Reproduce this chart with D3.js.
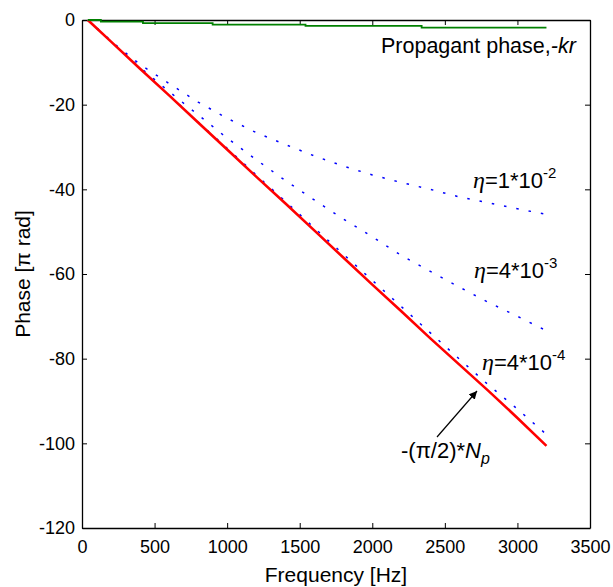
<!DOCTYPE html>
<html>
<head>
<meta charset="utf-8">
<script src="https://cdn.jsdelivr.net/npm/d3@7"></script>
<style>
  body { margin: 0; background: #fff; }
  text { font-family: "Liberation Sans", Arial, Helvetica, sans-serif; }
</style>
</head>
<body>
<div id="chart"></div>
<script>
// data
var freqs = [40, 200, 400, 600, 800, 1000, 1200, 1400, 1600, 1800, 2000, 2200, 2400, 2600, 2800, 3000, 3200];
var resonPhase = [0, -5.1, -11.5, -17.8, -24.2, -30.6, -37.0, -43.3, -49.7, -56.1, -62.5, -68.8, -75.2, -81.4, -87.6, -94.0, -100.6];
var eta4e4 = [0, -5.0, -11.4, -17.7, -24.1, -30.3, -36.6, -42.8, -49.1, -55.3, -61.5, -67.7, -73.9, -80.1, -86.2, -91.9, -97.9];
var eta4e3 = [0, -5.0, -11.2, -16.9, -22.4, -27.9, -33.0, -37.9, -42.5, -47.0, -51.2, -55.6, -59.4, -63.1, -66.7, -70.0, -73.4];
var eta1e2 = [0, -5.0, -10.5, -15.0, -19.4, -23.2, -26.6, -29.4, -32.1, -34.5, -36.6, -38.4, -40.0, -41.8, -43.2, -44.6, -45.9];
var propFreq = [40, 130, 420, 900, 1540, 2340, 3200];
var propPhase = [0, -0.4, -0.75, -1.1, -1.4, -1.8, -1.8];
var xTicks = [0, 500, 1000, 1500, 2000, 2500, 3000, 3500];
var yTicks = [0, -20, -40, -60, -80, -100, -120];

var margin = {top: 20, right: 23, bottom: 59, left: 82},
    width = 613 - margin.left - margin.right,
    height = 587 - margin.top - margin.bottom;

var svg = d3.select("#chart")
  .append("svg")
    .attr("width", 613)
    .attr("height", 587)
  .append("g")
    .attr("transform", "translate(" + margin.left + "," + margin.top + ")");

var x = d3.scaleLinear().domain([0, 3500]).range([0, width]);
var y = d3.scaleLinear().domain([-120, 0]).range([height, 0]);

var plain = function(d) { return String(d); };

// axes, ticks pointing inward, box all round
svg.append("g")
  .attr("transform", "translate(0," + height + ")")
  .call(d3.axisBottom(x).tickValues(xTicks).tickSize(-5).tickSizeOuter(0).tickPadding(12).tickFormat(plain));
svg.append("g")
  .call(d3.axisTop(x).tickValues(xTicks).tickSize(-5).tickSizeOuter(0).tickFormat(""));
svg.append("g")
  .call(d3.axisLeft(y).tickValues(yTicks).tickSize(-5).tickSizeOuter(0).tickPadding(7).tickFormat(plain));
svg.append("g")
  .attr("transform", "translate(" + width + ",0)")
  .call(d3.axisRight(y).tickValues(yTicks).tickSize(-5).tickSizeOuter(0).tickFormat(""));

svg.selectAll(".domain").attr("stroke", "#000").attr("stroke-width", 1.3);
svg.selectAll(".tick line").attr("stroke", "#000").attr("stroke-width", 1);
svg.selectAll(".tick text").style("font-size", "18px").attr("fill", "#000");

var line = d3.line()
  .x(function(d) { return x(d[0]); })
  .y(function(d) { return y(d[1]); });

function pairs(xs, ys) { return xs.map(function(v, i) { return [v, ys[i]]; }); }

// dotted blue curves
[eta1e2, eta4e3, eta4e4].forEach(function(s) {
  svg.append("path")
    .datum(pairs(freqs, s))
    .attr("fill", "none")
    .attr("stroke", "#0000ff")
    .attr("stroke-width", 1.5)
    .attr("stroke-dasharray", "2.5,10")
    .attr("d", line);
});

// red line
svg.append("path")
  .datum(pairs(freqs, resonPhase))
  .attr("fill", "none")
  .attr("stroke", "#ff0000")
  .attr("stroke-width", 2.6)
  .attr("d", line);

// green propagation phase (stepped)
svg.append("path")
  .datum(pairs(propFreq, propPhase))
  .attr("fill", "none")
  .attr("stroke", "#008000")
  .attr("stroke-width", 1.8)
  .attr("d", line.curve(d3.curveStepAfter));

// axis titles
svg.append("text")
  .attr("x", width / 2)
  .attr("y", height + 54)
  .attr("text-anchor", "middle")
  .style("font-size", "21px")
  .text("Frequency [Hz]");

svg.append("text")
  .attr("transform", "translate(-52," + (height / 2) + ") rotate(-90)")
  .attr("text-anchor", "middle")
  .style("font-size", "21px")
  .text("Phase [\u03c0 rad]");

// annotations
var prop = svg.append("text")
  .attr("x", 381 - margin.left)
  .attr("y", 53 - margin.top)
  .style("font-size", "21.5px");
prop.append("tspan").text("Propagant phase,");
prop.append("tspan").style("font-style", "italic").text("-kr");

function etaLabel(px, py, mant, exp) {
  var t = svg.append("text")
    .attr("x", px - margin.left)
    .attr("y", py - margin.top)
    .style("font-size", "22px");
  t.append("tspan").style("font-family", "'Liberation Serif', serif")
    .style("font-style", "italic").style("font-size", "24px").text("\u03b7");
  t.append("tspan").text("=" + mant + "*10");
  t.append("tspan").attr("dy", -10).style("font-size", "15px").text(exp);
}
etaLabel(473, 188, "1", "-2");
etaLabel(474, 278, "4", "-3");
etaLabel(482, 370, "4", "-4");

var np = svg.append("text")
  .attr("x", 401 - margin.left)
  .attr("y", 458 - margin.top)
  .style("font-size", "22px");
np.append("tspan").text("-(\u03c0/2)*");
np.append("tspan").style("font-style", "italic").text("N");
np.append("tspan").attr("dy", 6).style("font-style", "italic").style("font-size", "16px").text("p");

// arrow
svg.append("defs").append("marker")
  .attr("id", "head")
  .attr("viewBox", "0 0 10 10")
  .attr("refX", 10).attr("refY", 5)
  .attr("markerWidth", 8).attr("markerHeight", 8)
  .attr("markerUnits", "userSpaceOnUse")
  .attr("orient", "auto")
  .append("path").attr("d", "M0,0L10,5L0,10z").attr("fill", "#000");

svg.append("line")
  .attr("x1", 437 - margin.left).attr("y1", 437 - margin.top)
  .attr("x2", 477 - margin.left).attr("y2", 391 - margin.top)
  .attr("stroke", "#000")
  .attr("stroke-width", 1.2)
  .attr("marker-end", "url(#head)");
</script>
</body>
</html>
